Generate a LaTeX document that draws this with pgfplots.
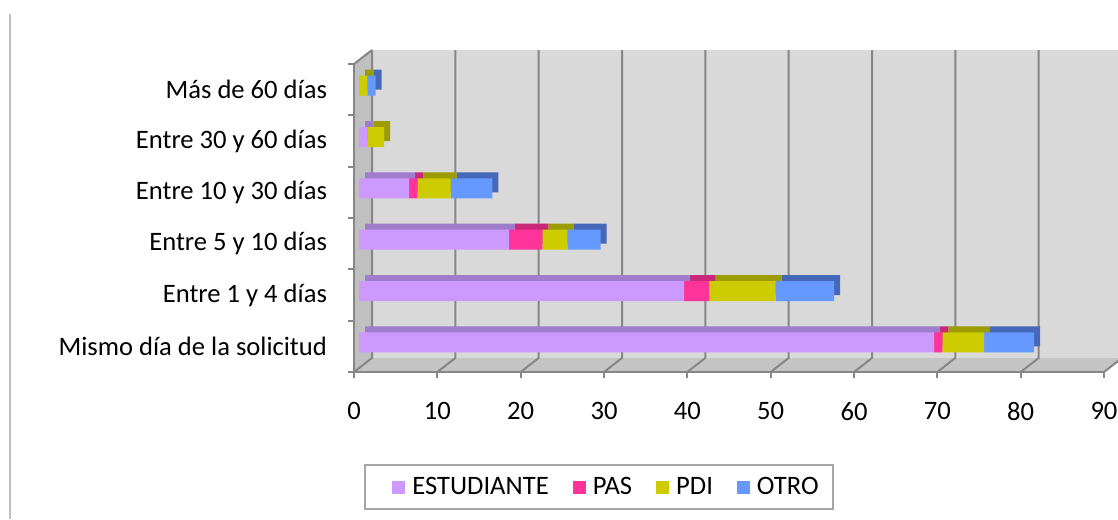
\documentclass[border=0pt]{standalone}
\usepackage{fontspec}
\setmainfont{Carlito}
\usepackage{pgfplots}
\usepackage{pgfplotstable}
\pgfplotsset{compat=1.18}
\usetikzlibrary{calc}

\definecolor{estud}{HTML}{CC99FF}
\definecolor{estudtop}{HTML}{A07CCC}
\definecolor{pas}{HTML}{FF3399}
\definecolor{pastop}{HTML}{C82877}
\definecolor{pdi}{HTML}{CCCC00}
\definecolor{pditop}{HTML}{9C9C00}
\definecolor{otro}{HTML}{6699FF}
\definecolor{otrotop}{HTML}{4668B8}
\definecolor{pared}{HTML}{D9D9D9}
\definecolor{suelo}{HTML}{C4C4C4}
\definecolor{lado}{HTML}{C0C0C0}
\definecolor{rejilla}{HTML}{868686}
\definecolor{borde}{HTML}{BFBFBF}
\definecolor{bordeley}{HTML}{A6A6A6}

% posiciones: 0 = Mismo dia ... 5 = Mas de 60 dias
\pgfplotstableread{
pos est pas pdi otro
0 69 1 5 6
1 39 3 8 7
2 18 4 3 4
3 6 1 4 5
4 1 0 2 0
5 0 0 1 1
}\datos

\pgfplotsset{
  base/.style={scale only axis, width=375pt, height=154pt,
    xmin=0, xmax=90, ymin=-0.5, ymax=5.5, anchor=south west},
  barras/.style={base, xbar stacked, bar width=10pt, axis lines=none,
    ticks=none, clip=false},
}

\begin{document}
\begin{tikzpicture}[font=\fontsize{13.3}{16}\selectfont]
\path[use as bounding box] (0,0) rectangle (559pt,259.5pt);
\draw[borde, line width=1pt] (4.75pt,0) -- (4.75pt,252.5pt);

% paredes del fondo
\begin{axis}[base, at={(186pt,80.5pt)}, axis lines=none, ticks=none, clip=false]
\fill[suelo] ($(rel axis cs:0,0)+(-9pt,-7pt)$) -- (rel axis cs:0,0) -- (rel axis cs:1,0)
  -- ($(rel axis cs:1,0)+(-9pt,-7pt)$) -- cycle;
\fill[pared] (rel axis cs:0,0) rectangle (rel axis cs:1,1);
\fill[lado] ($(rel axis cs:0,0)+(-9pt,-7pt)$) -- ($(rel axis cs:0,1)+(-9pt,-7pt)$)
  -- (rel axis cs:0,1) -- (rel axis cs:0,0) -- cycle;
\pgfplotsinvokeforeach{0,10,20,30,40,50,60,70,80,90}{
  \draw[rejilla, line width=1pt] ($(axis cs:#1,-0.5)+(-9pt,-7pt)$) -- (axis cs:#1,-0.5) -- (axis cs:#1,5.5);
}
\draw[rejilla, line width=1pt] ($(rel axis cs:0,1)+(-9pt,-7pt)$) -- (rel axis cs:0,1);
\end{axis}

% caras superiores y laterales
\begin{axis}[barras, at={(182.5pt,78.5pt)}]
\addplot[fill=estudtop, draw=none] table[x=est, y=pos] {\datos};
\addplot[fill=pastop, draw=none] table[x=pas, y=pos] {\datos};
\addplot[fill=pditop, draw=none] table[x=pdi, y=pos] {\datos};
\addplot[fill=otrotop, draw=none] table[x=otro, y=pos] {\datos};
\end{axis}

% caras frontales
\begin{axis}[barras, at={(179.5pt,75.5pt)},
  legend columns=4,
  legend style={at={(0.32,-0.386)}, anchor=center, draw=bordeley, line width=1pt,
    inner xsep=7pt, inner ysep=4pt,
    nodes={anchor=base west, inner xsep=0pt},
    /tikz/every even column/.append style={column sep=5.5pt}},
  legend image code/.code={\fill[#1] (0pt,0pt) rectangle (6.5pt,6.5pt);
    \path[draw=none, fill=none] (-6.5pt,0pt) (10pt,0pt);},
]
\addplot[fill=estud, draw=none] table[x=est, y=pos] {\datos};
\addlegendentry{ESTUDIANTE}
\addplot[fill=pas, draw=none] table[x=pas, y=pos] {\datos};
\addlegendentry{PAS}
\addplot[fill=pdi, draw=none] table[x=pdi, y=pos] {\datos};
\addlegendentry{PDI}
\addplot[fill=otro, draw=none] table[x=otro, y=pos] {\datos};
\addlegendentry{OTRO}
\end{axis}

% marco frontal con ejes y etiquetas
\begin{axis}[base, at={(177pt,73.5pt)},
  axis x line*=bottom, axis y line*=left,
  axis line style={rejilla, line width=1pt},
  tick style={rejilla, line width=1pt}, tick align=outside, major tick length=3pt,
  xtick={0,10,...,90},
  ytick={-0.5,0.5,...,5.5}, yticklabels={},
  extra y ticks={0,1,2,3,4,5},
  extra y tick labels={Mismo día de la solicitud, Entre 1 y 4 días, Entre 5 y 10 días,
    Entre 10 y 30 días, Entre 30 y 60 días, Más de 60 días},
  extra y tick style={major tick length=0pt, yticklabel style={xshift=-10pt}},
  /pgf/number format/assume math mode=true,
  xticklabel style={yshift=-8.5pt},
  tick label style={black},
]
\addplot[draw=none] coordinates {(0,0)};
\end{axis}
\end{tikzpicture}
\end{document}
